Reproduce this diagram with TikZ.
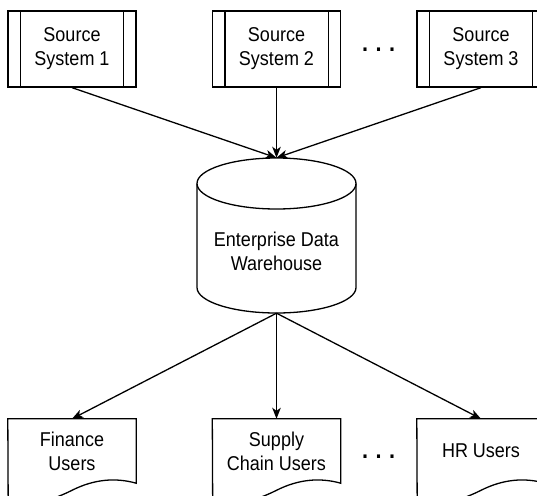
\documentclass[tikz,border=0pt]{standalone}
\usepackage{fontspec}
\setmainfont[FakeStretch=0.9]{Liberation Sans}
\usetikzlibrary{arrows.meta,calc}

\tikzset{
  lbl/.style={font=\fontsize{20}{24}\selectfont, align=center, inner sep=0pt},
  srcbox/.style={lbl, draw, line width=1.3pt, minimum width=128pt, minimum height=76pt},
  docbox/.style={lbl, minimum width=128pt, minimum height=64pt},
  dots/.style={font=\fontsize{24}{24}\bfseries\selectfont, inner sep=0pt},
  arr/.style={line width=1.3pt, -{Stealth[length=11pt,width=8.5pt,inset=3pt]}},
  outline/.style={line width=1.3pt}
}

\begin{document}
\begin{tikzpicture}[x=1pt,y=-1pt]
  \useasboundingbox (0,0) rectangle (537,495);
  \clip (0,0) rectangle (537,495);

  % source systems (process boxes)
  \node[srcbox] (s1) at (72,49)    {Source\\System 1};
  \node[srcbox] (s2) at (276.5,49) {Source\\System 2};
  \node[srcbox] (s3) at (481,49)   {Source\\System 3};
  \foreach \n in {s1,s2,s3}
    \draw[outline] ([xshift=13pt]\n.north west) -- ([xshift=13pt]\n.south west)
                   ([xshift=-13pt]\n.north east) -- ([xshift=-13pt]\n.south east);
  \node[dots] (dtop) at (378.5,50) {.\kern7.5pt.\kern7.5pt.};

  % warehouse cylinder
  \node[minimum width=159pt, minimum height=155pt, inner sep=0pt] (dw) at (276.5,235.5) {};
  \draw[outline] (276.5,183.5) ellipse [x radius=79.5pt, y radius=25.5pt];
  \draw[outline] (197,183.5) -- (197,287.5)
    arc[start angle=180, end angle=360, x radius=79.5pt, y radius=25.5pt] -- (356,183.5);
  \node[lbl] (dwt) at (276.5,251.5) {Enterprise Data\\Warehouse};

  % user groups (document shapes)
  \node[docbox] (fin) at (72,451)    {Finance\\Users};
  \node[docbox] (sup) at (276.5,451) {Supply\\Chain Users};
  \node[docbox] (hr)  at (481,451)   {HR Users};
  \foreach \n in {fin,sup,hr}
    \draw[outline] (\n.north west) -- (\n.north east) -- (\n.south east)
      .. controls ($(\n.south east)+(-21.3,-6)$) and ($(\n.south east)+(-42.7,-3.7)$)
      .. ($(\n.south east)+(-64,7)$)
      .. controls ($(\n.south east)+(-85.3,17.7)$) and ($(\n.south east)+(-106.7,23)$)
      .. ($(\n.south east)+(-128,23)$) -- cycle;
  \node[dots] (dbot) at (378.5,457) {.\kern7.5pt.\kern7.5pt.};

  % data flows
  \foreach \n in {s1,s2,s3}
    \draw[arr] (\n.south) -- (dw.north);
  \foreach \n in {fin,sup,hr}
    \draw[arr] (dw.south) -- (\n.north);
\end{tikzpicture}
\end{document}
